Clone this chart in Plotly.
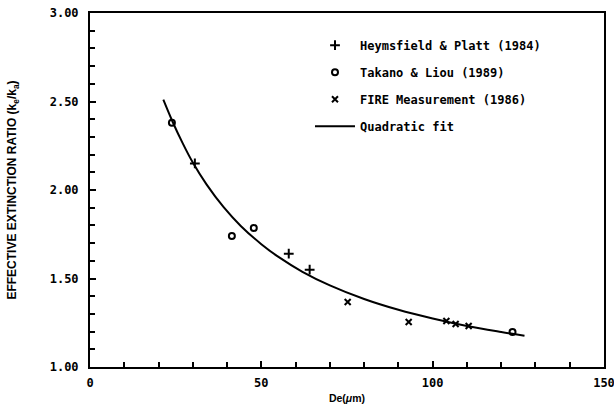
import plotly.graph_objects as go

# Data
hp_x = [30.6, 58.0, 64.1]
hp_y = [2.15, 1.64, 1.55]

tl_x = [23.9, 41.4, 47.8, 123.3]
tl_y = [2.38, 1.74, 1.785, 1.198]

fire_x = [75.2, 93.0, 104.0, 106.7, 110.5]
fire_y = [1.367, 1.254, 1.26, 1.243, 1.232]

fit_x = [21.4, 24, 27, 30, 34, 39, 44, 50, 55, 62, 70, 80, 90, 100, 110, 120, 126.8]
fit_y = [2.51, 2.39, 2.266, 2.155, 2.032, 1.903, 1.797, 1.694, 1.622, 1.538,
         1.461, 1.384, 1.323, 1.274, 1.232, 1.198, 1.177]

x_ticks = [0, 50, 100, 150]
y_ticks = [1.0, 1.5, 2.0, 2.5, 3.0]

MONO = "DejaVu Sans Mono"
SANS = "Liberation Sans"
fig = go.Figure()

fig.add_trace(go.Scatter(x=fit_x, y=fit_y, mode="lines", name="Quadratic fit",
                         line=dict(color="black", width=2, shape="spline"),
                         legendgroup="d", legendrank=4))
fig.add_trace(go.Scatter(x=hp_x, y=hp_y, mode="markers", name="Heymsfield & Platt (1984)",
                         marker=dict(symbol="cross-thin", size=7, color="black",
                                     line=dict(color="black", width=2)),
                         legendgroup="a", legendrank=1))
fig.add_trace(go.Scatter(x=tl_x, y=tl_y, mode="markers", name="Takano & Liou (1989)",
                         marker=dict(symbol="circle-open", size=6, color="black",
                                     line=dict(color="black", width=2)),
                         legendgroup="b", legendrank=2))
fig.add_trace(go.Scatter(x=fire_x, y=fire_y, mode="markers", name="FIRE Measurement (1986)",
                         marker=dict(symbol="x-thin", size=6, color="black",
                                     line=dict(color="black", width=2)),
                         legendgroup="c", legendrank=3))

fig.update_layout(
    width=614, height=405,
    margin=dict(l=90, r=10, t=13, b=38),
    plot_bgcolor="white", paper_bgcolor="white",
    font=dict(family=MONO, color="black"),
    legend=dict(x=0.428, y=0.95, xanchor="left", yanchor="top",
                bgcolor="rgba(0,0,0,0)", tracegroupgap=8, itemwidth=40,
                font=dict(family=MONO, size=12, color="black", weight="bold")),
    xaxis=dict(range=[0, 150], tickvals=x_ticks, ticks="inside", ticklen=6,
               tickwidth=1.5, tickcolor="black", automargin=False,
               ticklabelstandoff=4, ticklabeloverflow="allow",
               minor=dict(dtick=10, ticks="inside", ticklen=5, tickcolor="black", tickwidth=1.5),
               showline=True, linecolor="black", linewidth=2, mirror=True,
               showgrid=False, zeroline=False,
               tickfont=dict(family=MONO, size=12, weight="bold"),
               title=dict(text="De(<i>μ</i>m)", standoff=5,
                          font=dict(family=SANS, size=10.5, weight="bold"))),
    yaxis=dict(range=[1.0, 3.0], tickvals=y_ticks, tickformat=".2f",
               ticks="inside", ticklen=6, tickwidth=1.5, tickcolor="black",
               automargin=False, ticklabelstandoff=7,
               minor=dict(dtick=0.1, ticks="inside", ticklen=5, tickcolor="black", tickwidth=1.5),
               showline=True, linecolor="black", linewidth=2, mirror=True,
               showgrid=False, zeroline=False,
               tickfont=dict(family=MONO, size=12, weight="bold"),
               title=dict(text="EFFECTIVE EXTINCTION RATIO (k<sub>e</sub>/k<sub>a</sub>)",
                          standoff=30,
                          font=dict(family=SANS, size=12, weight="bold"))),
)

fig.write_html("out.html")
